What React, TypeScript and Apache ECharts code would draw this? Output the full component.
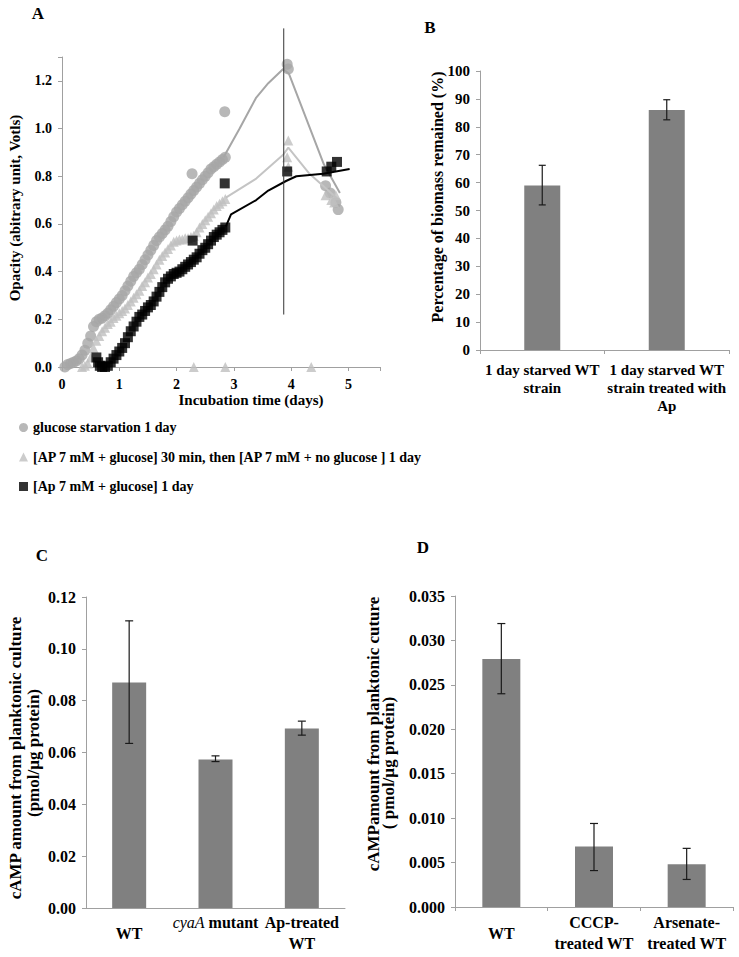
import React, { useEffect, useRef } from 'react';
import * as echarts from 'echarts';

const FONT = '"Liberation Serif", "Times New Roman", serif';

// ---- Panel A data (days, opacity) ----
const starvationPts: number[][] = [
  [0.05, 0.0], [0.1, 0.01], [0.15, 0.015], [0.2, 0.02], [0.25, 0.025], [0.3, 0.035], [0.35, 0.05], [0.4, 0.07],
  [0.45, 0.1], [0.5, 0.13], [0.55, 0.17], [0.6, 0.19], [0.65, 0.2], [0.7, 0.205], [0.75, 0.215], [0.8, 0.225],
  [0.85, 0.24], [0.9, 0.255], [0.95, 0.27], [1.0, 0.285], [1.05, 0.3], [1.1, 0.32], [1.15, 0.34], [1.2, 0.36],
  [1.25, 0.38], [1.3, 0.395], [1.35, 0.41], [1.4, 0.43], [1.45, 0.45], [1.5, 0.47], [1.55, 0.49], [1.6, 0.51],
  [1.65, 0.53], [1.7, 0.545], [1.75, 0.56], [1.8, 0.575], [1.85, 0.59], [1.9, 0.61], [1.95, 0.63], [2.0, 0.65],
  [2.05, 0.665], [2.1, 0.68], [2.15, 0.695], [2.2, 0.71], [2.25, 0.725], [2.3, 0.74], [2.35, 0.755], [2.4, 0.77],
  [2.45, 0.785], [2.5, 0.8], [2.55, 0.815], [2.6, 0.83], [2.65, 0.84], [2.7, 0.85], [2.75, 0.86], [2.8, 0.87],
  [2.85, 0.88], [2.27, 0.81], [2.84, 1.07], [3.93, 1.27], [3.95, 1.25], [4.6, 0.76], [4.68, 0.73], [4.78, 0.69],
  [4.82, 0.66],
];
const apSwitchPts: number[][] = [
  [0.35, 0.0], [0.4, 0.005], [0.45, 0.015], [0.5, 0.04], [0.55, 0.08], [0.6, 0.11], [0.65, 0.13], [0.7, 0.15],
  [0.75, 0.165], [0.8, 0.18], [0.85, 0.19], [0.9, 0.205], [0.95, 0.215], [1.0, 0.225], [1.05, 0.235], [1.1, 0.245],
  [1.15, 0.26], [1.2, 0.275], [1.25, 0.29], [1.3, 0.305], [1.35, 0.32], [1.4, 0.34], [1.45, 0.355], [1.5, 0.375],
  [1.55, 0.39], [1.6, 0.41], [1.65, 0.43], [1.7, 0.45], [1.75, 0.465], [1.8, 0.48], [1.85, 0.495], [1.9, 0.51],
  [1.95, 0.525], [2.0, 0.53], [2.05, 0.535], [2.1, 0.535], [2.15, 0.54], [2.2, 0.54], [2.25, 0.545], [2.3, 0.55],
  [2.35, 0.565], [2.4, 0.585], [2.45, 0.6], [2.5, 0.615], [2.55, 0.63], [2.6, 0.645], [2.65, 0.66], [2.7, 0.675],
  [2.75, 0.685], [2.8, 0.695], [2.85, 0.705], [2.3, 0.0], [2.85, 0.0], [4.35, 0.0], [3.95, 0.95], [3.93, 0.88],
  [3.95, 0.84], [4.6, 0.72], [4.7, 0.7], [4.78, 0.72], [4.75, 0.69],
];
const apGlucosePts: number[][] = [
  [0.6, 0.04], [0.63, 0.02], [0.66, 0.005], [0.7, 0.0], [0.75, 0.0], [0.8, 0.005], [0.85, 0.02], [0.9, 0.035],
  [0.95, 0.05], [1.0, 0.065], [1.05, 0.08], [1.1, 0.1], [1.15, 0.125], [1.2, 0.15], [1.25, 0.17], [1.3, 0.19],
  [1.35, 0.21], [1.4, 0.22], [1.45, 0.235], [1.5, 0.25], [1.55, 0.26], [1.6, 0.275], [1.65, 0.295], [1.7, 0.315],
  [1.75, 0.335], [1.8, 0.355], [1.85, 0.37], [1.9, 0.38], [1.95, 0.39], [2.0, 0.395], [2.05, 0.4], [2.1, 0.41],
  [2.15, 0.42], [2.2, 0.43], [2.25, 0.44], [2.3, 0.45], [2.35, 0.46], [2.4, 0.475], [2.45, 0.49], [2.5, 0.5],
  [2.55, 0.515], [2.6, 0.53], [2.65, 0.545], [2.7, 0.555], [2.75, 0.565], [2.8, 0.575], [2.85, 0.585],
  [2.28, 0.53], [2.84, 0.77], [3.93, 0.82], [4.62, 0.82], [4.7, 0.84], [4.8, 0.86],
];
const starvationLine: number[][] = [[2.82, 0.88], [3.1, 1.0], [3.39, 1.13], [3.6, 1.19], [3.86, 1.25], [3.96, 1.23], [4.57, 0.85], [4.85, 0.73]];
const apSwitchLine: number[][] = [[2.86, 0.71], [3.39, 0.79], [3.86, 0.89], [3.95, 0.92], [4.32, 0.81], [4.79, 0.71]];
const apGlucoseLine: number[][] = [[2.86, 0.59], [2.95, 0.64], [3.39, 0.7], [3.6, 0.74], [3.91, 0.78], [4.09, 0.8], [4.56, 0.81], [5.02, 0.83]];
const markerLine: number[][] = [[3.87, 0.22], [3.87, 1.42]];
const legendNames = [
  'glucose starvation 1 day',
  '[AP 7 mM + glucose] 30 min, then [AP 7 mM + no glucose ] 1 day',
  '[Ap 7 mM + glucose] 1 day',
];

// ---- Panel B ----
const bCats = ['1 day starved WT\nstrain', '1 day starved WT\nstrain treated with\nAp'];
const bVals = [59, 86];
const bLow = [52, 82.5];
const bHigh = [66.2, 89.7];

// ---- Panel C ----
const cCats = ['WT', 'cyaA mutant', 'Ap-treated\nWT'];
const cVals = [0.087, 0.0573, 0.0693];
const cLow = [0.0635, 0.0565, 0.0667];
const cHigh = [0.1108, 0.0587, 0.0721];

// ---- Panel D ----
const dCats = ['WT', 'CCCP-\ntreated WT', 'Arsenate-\ntreated WT'];
const dVals = [0.0279, 0.0068, 0.0048];
const dLow = [0.024, 0.0041, 0.0031];
const dHigh = [0.0319, 0.0094, 0.0066];

const AXIS_GRAY = '#a0a0a0';
const BAR_GRAY = '#808080';

const errRender = (cap: number) => (params: any, api: any) => {
  const i = api.value(0);
  const lo = api.coord([i, api.value(1)]);
  const hi = api.coord([i, api.value(2)]);
  const style = { stroke: '#1a1a1a', lineWidth: 1.2 };
  return {
    type: 'group',
    children: [
      { type: 'line', shape: { x1: lo[0], y1: lo[1], x2: hi[0], y2: hi[1] }, style },
      { type: 'line', shape: { x1: lo[0] - cap, y1: lo[1], x2: lo[0] + cap, y2: lo[1] }, style },
      { type: 'line', shape: { x1: hi[0] - cap, y1: hi[1], x2: hi[0] + cap, y2: hi[1] }, style },
    ],
  };
};

const labelStyle = (size: number) => ({ color: '#000', fontFamily: FONT, fontWeight: 'bold' as const, fontSize: size });

const catAxis = (gridIndex: number, data: string[], extra: any) => ({
  type: 'category',
  gridIndex,
  data,
  axisLine: { lineStyle: { color: AXIS_GRAY, width: 1 } },
  axisTick: { show: true, alignWithLabel: false, length: 4, lineStyle: { color: AXIS_GRAY } },
  splitLine: { show: false },
  ...extra,
});

const valAxis = (gridIndex: number, min: number, max: number, interval: number, size: number, fmt: (v: number) => string, margin: number) => ({
  type: 'value',
  gridIndex,
  min,
  max,
  interval,
  axisLine: { show: true, lineStyle: { color: AXIS_GRAY, width: 1 } },
  axisTick: { show: true, length: 4, lineStyle: { color: AXIS_GRAY } },
  splitLine: { show: false },
  axisLabel: { ...labelStyle(size), formatter: fmt, margin },
});

const textEl = (text: string, x: number, y: number, size: number, rotate = 0, extra: any = {}) => ({
  type: 'text',
  x,
  y,
  rotation: rotate,
  style: {
    text,
    fill: '#000',
    fontFamily: FONT,
    fontWeight: 'bold',
    fontSize: size,
    align: 'center',
    verticalAlign: 'middle',
    ...extra,
  },
});

export default function App() {
  const ref = useRef<HTMLDivElement>(null);
  useEffect(() => {
    if (!ref.current) return;
    const chart = echarts.init(ref.current, undefined, { renderer: 'svg' });
    const option: any = {
      animation: false,
      backgroundColor: '#fff',
      grid: [
        { left: 62, top: 57, width: 318, height: 310 },
        { left: 480, top: 71, width: 249, height: 279 },
        { left: 86, top: 597, width: 259, height: 311 },
        { left: 455, top: 596, width: 278, height: 311 },
      ],
      xAxis: [
        {
          type: 'value',
          gridIndex: 0,
          min: 0,
          max: 5.55,
          interval: 1,
          axisLine: { lineStyle: { color: AXIS_GRAY } },
          axisTick: { show: true, length: 4, lineStyle: { color: AXIS_GRAY } },
          splitLine: { show: false },
          axisLabel: { ...labelStyle(14), margin: 10, formatter: (v: number) => (Math.abs(v - Math.round(v)) < 1e-6 ? String(Math.round(v)) : '') },
        },
        catAxis(1, bCats, {
          axisLabel: { ...labelStyle(15), margin: 11, lineHeight: 18, interval: 0 },
        }),
        catAxis(2, cCats, {
          axisTick: { show: false },
          axisLabel: {
            ...labelStyle(16),
            margin: 25,
            lineHeight: 21,
            interval: 0,
            verticalAlign: 'middle',
            formatter: (v: string) => (v === 'cyaA mutant' ? '{i|cyaA} mutant\n ' : v),
            rich: { i: { fontFamily: FONT, fontStyle: 'italic', fontWeight: 'normal', fontSize: 16, color: '#000' } },
          },
        }),
        catAxis(3, dCats, {
          axisLabel: { ...labelStyle(16), margin: 26, lineHeight: 21, interval: 0, verticalAlign: 'middle' },
        }),
      ],
      yAxis: [
        valAxis(0, 0, 1.3, 0.2, 14, (v: number) => (v > 1.25 ? '' : v.toFixed(1)), 10),
        valAxis(1, 0, 100, 10, 15, (v: number) => String(Math.round(v)), 10),
        valAxis(2, 0, 0.12, 0.02, 16, (v: number) => v.toFixed(2), 10),
        valAxis(3, 0, 0.035, 0.005, 16, (v: number) => v.toFixed(3), 10),
      ],
      legend: {
        orient: 'vertical',
        left: 14,
        top: 415,
        itemWidth: 9,
        itemHeight: 9,
        itemGap: 14.5,
        textStyle: { ...labelStyle(14), lineHeight: 15 },
        data: [
          { name: legendNames[0], icon: 'circle' },
          { name: legendNames[1], icon: 'triangle' },
          { name: legendNames[2], icon: 'rect' },
        ],
      },
      series: [
        {
          name: legendNames[0], type: 'scatter', xAxisIndex: 0, yAxisIndex: 0, symbol: 'circle', symbolSize: 11,
          itemStyle: { color: '#a6a6a6' }, data: starvationPts, z: 2,
        },
        {
          name: legendNames[1], type: 'scatter', xAxisIndex: 0, yAxisIndex: 0, symbol: 'triangle', symbolSize: 10,
          itemStyle: { color: '#bfbfbf' }, data: apSwitchPts, z: 3,
        },
        {
          name: legendNames[2], type: 'scatter', xAxisIndex: 0, yAxisIndex: 0, symbol: 'rect', symbolSize: 10,
          itemStyle: { color: '#000' }, data: apGlucosePts, z: 4,
        },
        {
          type: 'line', xAxisIndex: 0, yAxisIndex: 0, data: starvationLine, symbol: 'none',
          lineStyle: { color: '#a6a6a6', width: 2 }, z: 2,
        },
        {
          type: 'line', xAxisIndex: 0, yAxisIndex: 0, data: apSwitchLine, symbol: 'none',
          lineStyle: { color: '#c4c4c4', width: 2 }, z: 3,
        },
        {
          type: 'line', xAxisIndex: 0, yAxisIndex: 0, data: apGlucoseLine, symbol: 'none',
          lineStyle: { color: '#000', width: 2 }, z: 4,
        },
        {
          type: 'line', xAxisIndex: 0, yAxisIndex: 0, data: markerLine, symbol: 'none', clip: false,
          lineStyle: { color: '#333', width: 1 }, z: 5,
        },
        {
          type: 'bar', xAxisIndex: 1, yAxisIndex: 1, data: bVals, barWidth: 36, itemStyle: { color: BAR_GRAY },
        },
        {
          type: 'custom', xAxisIndex: 1, yAxisIndex: 1, renderItem: errRender(3.5),
          data: bCats.map((_, i) => [i, bLow[i], bHigh[i]]), encode: { x: 0, y: [1, 2] }, z: 10,
        },
        {
          type: 'bar', xAxisIndex: 2, yAxisIndex: 2, data: cVals, barWidth: 34, itemStyle: { color: BAR_GRAY },
        },
        {
          type: 'custom', xAxisIndex: 2, yAxisIndex: 2, renderItem: errRender(4),
          data: cCats.map((_, i) => [i, cLow[i], cHigh[i]]), encode: { x: 0, y: [1, 2] }, z: 10,
        },
        {
          type: 'bar', xAxisIndex: 3, yAxisIndex: 3, data: dVals, barWidth: 38, itemStyle: { color: BAR_GRAY },
        },
        {
          type: 'custom', xAxisIndex: 3, yAxisIndex: 3, renderItem: errRender(4),
          data: dCats.map((_, i) => [i, dLow[i], dHigh[i]]), encode: { x: 0, y: [1, 2] }, z: 10,
        },
      ],
      graphic: [
        textEl('A', 38, 13, 17),
        textEl('B', 430, 27, 17),
        textEl('C', 42, 555, 17),
        textEl('D', 423, 547, 17),
        textEl('Opacity (abitrary unit, Votls)', 15, 208, 15, Math.PI / 2),
        textEl('Incubation time (days)', 251, 400, 15),
        textEl('Percentage of biomass remained (%)', 437, 197, 16, Math.PI / 2),
        textEl('cAMP amount from planktonic culture', 15, 758, 17, Math.PI / 2),
        textEl('(pmol/µg protein)', 33, 753, 17, Math.PI / 2),
        textEl('cAMPamount from planktonic cuture', 373, 734, 17, Math.PI / 2),
        textEl('( pmol/µg protein)', 388, 763, 17, Math.PI / 2),
      ],
    };
    chart.setOption(option);
    return () => chart.dispose();
  }, []);
  return (
    <div
      ref={ref}
      style={{ position: 'absolute', left: 0, top: 0, width: 739, height: 957, background: '#fff' }}
    />
  );
}
